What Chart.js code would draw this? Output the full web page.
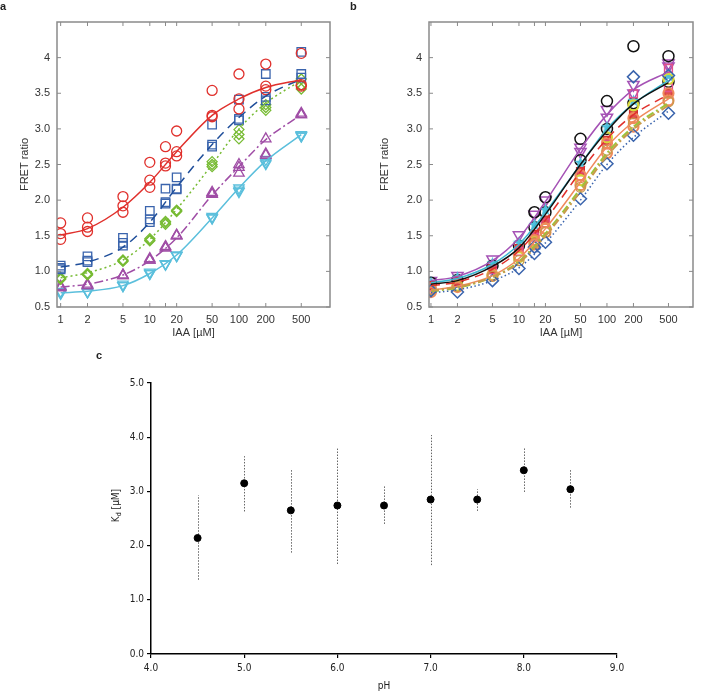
<!DOCTYPE html>
<html>
<head>
<meta charset="utf-8">
<script src="https://cdn.jsdelivr.net/npm/chart.js@4.4.1/dist/chart.umd.min.js"></script>
<style>
  body { margin: 0; background: #fff; }
  #wrap { position: relative; width: 701px; height: 692px; font-family: "Liberation Sans", Arial, sans-serif; }
  canvas { position: absolute; }
  .lbl { position: absolute; font-weight: bold; font-size: 11px; color: #222; }
</style>
</head>
<body>
<div id="wrap">
  <canvas id="chartA" width="350" height="340" style="left:0;top:0"></canvas>
  <canvas id="chartB" width="351" height="340" style="left:350px;top:0"></canvas>
  <canvas id="chartC" width="701" height="352" style="left:0;top:340px"></canvas>
  <div class="lbl" style="left:0;top:0">a</div>
  <div class="lbl" style="left:350px;top:0">b</div>
  <div class="lbl" style="left:96px;top:349px">c</div>
</div>
<script>
// nồng độ IAA (µM) và nhãn trục
const conc = [1, 2, 5, 10, 15, 20, 50, 100, 200, 500];
const xTicks = [1, 2, 5, 10, 15, 20, 50, 100, 200, 500];
const xTickLabels = ["1", "2", "5", "10", "", "20", "50", "100", "200", "500"];
const yTicks = [0.5, 1, 1.5, 2, 2.5, 3, 3.5, 4];
const yTickLabels = ["0.5", "1.0", "1.5", "2.0", "2.5", "3.0", "3.5", "4"];
const curveX = [1, 2, 5, 10, 20, 50, 100, 200, 500];

// panel a: điểm đo (lặp lại) và đường fit
const redA = [[1.68, 1.53, 1.45], [1.75, 1.62, 1.56], [2.05, 1.92, 1.83], [2.53, 2.28, 2.18], [2.75, 2.52, 2.48], [2.97, 2.68, 2.62], [3.54, 3.19, 3.17], [3.77, 3.42, 3.28], [3.91, 3.60, 3.55], [4.06, 3.62, 3.60]];
const redFitA = [1.51, 1.60, 1.90, 2.25, 2.68, 3.19, 3.42, 3.58, 3.69];
const blueA = [[1.08, 1.05, 1.03], [1.21, 1.15, 1.13], [1.47, 1.40, 1.36], [1.85, 1.73, 1.69], [2.16, 1.97, 1.95], [2.32, 2.16, 2.15], [3.06, 2.78, 2.75], [3.41, 3.14, 3.12], [3.77, 3.45, 3.40], [4.08, 3.77, 3.72]];
const blueFitA = [1.06, 1.13, 1.34, 1.69, 2.18, 2.78, 3.16, 3.46, 3.70];
const greenA = [[0.91, 0.90, 0.89], [0.97, 0.96, 0.95], [1.16, 1.15, 1.14], [1.46, 1.44, 1.43], [1.70, 1.68, 1.66], [1.86, 1.85, 1.84], [2.54, 2.50, 2.47], [2.99, 2.92, 2.86], [3.34, 3.30, 3.26], [3.70, 3.61, 3.56]];
const greenFitA = [0.91, 0.98, 1.16, 1.45, 1.87, 2.50, 3.00, 3.36, 3.68];
const purpleA = [[0.79, 0.78, 0.77], [0.82, 0.80, 0.80], [0.95, 0.94, 0.94], [1.18, 1.16, 1.16], [1.35, 1.33, 1.33], [1.51, 1.50, 1.50], [2.11, 2.09, 2.08], [2.50, 2.46, 2.38], [2.86, 2.65, 2.63], [3.22, 3.20, 3.20]];
const purpleFitA = [0.78, 0.82, 0.95, 1.15, 1.47, 2.07, 2.47, 2.85, 3.20];
const cyanA = [[0.72, 0.70, 0.69], [0.72, 0.71, 0.71], [0.82, 0.80, 0.80], [0.99, 0.97, 0.97], [1.11, 1.10, 1.10], [1.23, 1.22, 1.22], [1.77, 1.75, 1.75], [2.17, 2.14, 2.12], [2.57, 2.53, 2.51], [2.92, 2.90, 2.90]];
const cyanFitA = [0.70, 0.72, 0.80, 0.97, 1.23, 1.75, 2.17, 2.55, 2.92];

// panel b
const blackB = [[0.84], [0.88], [1.08], [1.36], [1.83, 1.62], [2.04, 1.83], [2.86, 2.56], [3.39, 3.00], [4.16, 3.36], [4.02, 3.66]];
const blackFitB = [0.82, 0.87, 1.07, 1.33, 1.80, 2.50, 2.97, 3.35, 3.65];
const purpleB = [[0.87], [0.94], [1.17], [1.51], [1.80], [2.00], [2.74, 2.68], [3.27, 3.16], [3.62, 3.50], [3.92, 3.88]];
const purpleFitB = [0.87, 0.93, 1.15, 1.47, 1.98, 2.72, 3.20, 3.55, 3.80];
const cyanB = [[0.85], [0.92], [1.12], [1.41], [1.66], [1.87], [2.53], [3.03], [3.40], [3.75]];
const cyanFitB = [0.84, 0.90, 1.10, 1.38, 1.83, 2.50, 3.00, 3.35, 3.68];
const redB = [[0.80], [0.86], [1.04], [1.32], [1.52], [1.72], [2.40], [2.84], [3.20], [3.50]];
const redFitB = [0.80, 0.85, 1.03, 1.29, 1.72, 2.40, 2.86, 3.20, 3.48];
const pinkB = [[0.78], [0.84], [1.02], [1.28], [1.48], [1.68], [2.34], [2.78], [3.49], [3.85, 3.58]];
const yellowB = [[0.74], [0.80], [0.95], [1.20], [1.42], [1.60], [2.28], [2.88], [3.33], [3.70]];
const limeFitB = [0.72, 0.77, 0.92, 1.14, 1.53, 2.16, 2.66, 3.03, 3.36];
const orangeB = [[0.76, 0.71], [0.78], [0.94], [1.22], [1.44, 1.38], [1.60, 1.55], [2.35, 2.21], [2.80, 2.66], [3.15, 3.03], [3.50, 3.40]];
const orangeFitB = [0.74, 0.79, 0.94, 1.18, 1.60, 2.25, 2.75, 3.10, 3.42];
const tanB = [[0.74], [0.79], [0.93], [1.15], [1.40], [1.55], [2.18], [2.70], [3.08], [3.38]];
const tanFitB = [0.73, 0.78, 0.92, 1.12, 1.50, 2.12, 2.62, 3.00, 3.33];
const blueB = [[0.73], [0.71], [0.87], [1.04], [1.34, 1.25], [1.41], [2.02], [2.51], [3.73, 2.91], [3.75, 3.22]];
const blueFitB = [0.70, 0.74, 0.87, 1.05, 1.40, 2.00, 2.50, 2.88, 3.25];

// panel c: Kd theo pH
const pH = [4.5, 5.0, 5.5, 6.0, 6.5, 7.0, 7.5, 8.0, 8.5];
const kd = [2.14, 3.15, 2.65, 2.74, 2.74, 2.85, 2.85, 3.39, 3.04];
const kdLow = [1.37, 2.63, 1.87, 1.66, 2.40, 1.64, 2.64, 2.99, 2.70];
const kdHigh = [2.93, 3.65, 3.42, 3.79, 3.10, 4.04, 3.04, 3.82, 3.41];
const xTickLabelsC = ["4.0", "5.0", "6.0", "7.0", "8.0", "9.0"];
const yTickLabelsC = ["0.0", "1.0", "2.0", "3.0", "4.0", "5.0"];

const FONT = "'Liberation Sans', Arial, sans-serif";
const NARROW = "'Liberation Sans Narrow', 'DejaVu Sans Condensed', sans-serif";

function pts(reps) {
  return conc.flatMap((c, i) => reps[i].map((v) => ({ x: c, y: v })));
}
function fit(ys) {
  return curveX.map((c, i) => ({ x: c, y: ys[i] }));
}
function markers(reps, color, style, extra) {
  return Object.assign({
    data: pts(reps), pointStyle: style, pointRadius: 5, borderColor: color,
    backgroundColor: "rgba(0,0,0,0)", pointBorderWidth: 1.3, showLine: false,
  }, extra || {});
}
function line(ys, color, dash, width) {
  return {
    data: fit(ys), showLine: true, pointRadius: 0, borderColor: color,
    borderWidth: width || 1.5, borderDash: dash || [], cubicInterpolationMode: "monotone",
  };
}

// ngôi sao tô đầy cho panel b
function starImg(color) {
  const c = document.createElement("canvas");
  c.width = 13; c.height = 13;
  const g = c.getContext("2d");
  g.beginPath();
  for (let i = 0; i < 10; i++) {
    const r = i % 2 ? 2.8 : 6.4;
    const a = -Math.PI / 2 + (i * Math.PI) / 5;
    g.lineTo(6.5 + r * Math.cos(a), 7 + r * Math.sin(a));
  }
  g.closePath();
  g.fillStyle = color; g.fill();
  return c;
}

// khung xám + vạch chia hướng vào trong
const framePlugin = {
  id: "frame",
  afterDraw(chart) {
    const { ctx, chartArea: { left, right, top, bottom }, scales: { x, y } } = chart;
    ctx.save();
    ctx.strokeStyle = "#8a8a8a";
    ctx.lineWidth = 1.5;
    ctx.strokeRect(left, top, right - left, bottom - top);
    ctx.lineWidth = 1;
    ctx.beginPath();
    xTicks.forEach((v) => {
      const px = x.getPixelForValue(v);
      ctx.moveTo(px, bottom); ctx.lineTo(px, bottom - 4);
      ctx.moveTo(px, top); ctx.lineTo(px, top + 4);
    });
    yTicks.forEach((v) => {
      const py = y.getPixelForValue(v);
      ctx.moveTo(left, py); ctx.lineTo(left + 4, py);
      ctx.moveTo(right, py); ctx.lineTo(right - 4, py);
    });
    ctx.stroke();
    ctx.restore();
  },
};

function doseOptions(xMin, xMax, yWidth, titlePad) {
  return {
    responsive: false,
    animation: false,
    layout: { padding: { top: 22, right: 0, left: 0, bottom: 0 } },
    plugins: { legend: { display: false }, tooltip: { enabled: false } },
    scales: {
      x: {
        type: "logarithmic", min: xMin, max: xMax,
        afterBuildTicks: (s) => { s.ticks = xTicks.map((v) => ({ value: v })); },
        afterFit: (s) => { s.height = 33; },
        grid: { display: false, drawTicks: false },
        border: { display: false },
        ticks: {
          autoSkip: false, maxRotation: 0, padding: 6, color: "#333",
          font: { family: FONT, size: 11 },
          callback: (v) => xTickLabels[xTicks.indexOf(v)],
        },
        title: { display: true, text: "IAA [µM]", color: "#333", font: { family: FONT, size: 11 }, padding: 0 },
      },
      y: {
        min: 0.5, max: 4.5,
        afterFit: (s) => { s.width = yWidth; },
        grid: { display: false, drawTicks: false },
        border: { display: false },
        ticks: {
          stepSize: 0.5, padding: 7, color: "#333",
          font: { family: FONT, size: 11 },
          callback: (v) => { const i = yTicks.indexOf(v); return i < 0 ? "" : yTickLabels[i]; },
        },
        title: { display: true, text: "FRET ratio", color: "#333", font: { family: FONT, size: 11 }, padding: { top: titlePad, bottom: 0 } },
      },
    },
  };
}

const optsA = doseOptions(0.91, 1050, 57, 18);
optsA.layout.padding.right = 20;
new Chart(document.getElementById("chartA"), {
  type: "scatter",
  data: {
    datasets: [
      line(redFitA, "#e0302c"),
      line(blueFitA, "#1f4e9a", [9, 6]),
      line(greenFitA, "#77bb33", [2, 3]),
      line(purpleFitA, "#a04ea6", [9, 3, 2, 3]),
      line(cyanFitA, "#5bbfdc"),
      markers(redA, "#e0302c", "circle"),
      markers(blueA, "#3a64ad", "rect", { pointRadius: 6 }),
      markers(greenA, "#77bb33", "rectRot"),
      markers(purpleA, "#a04ea6", "triangle", { pointRadius: 6 }),
      markers(cyanA, "#5bbfdc", "triangle", { pointRadius: 6, pointRotation: 180 }),
    ],
  },
  options: optsA,
  plugins: [framePlugin],
});

const optsB = doseOptions(0.95, 950, 79, 28);
optsB.layout.padding.right = 3;
new Chart(document.getElementById("chartB"), {
  type: "scatter",
  data: {
    datasets: [
      line(blueFitB, "#3a64ad", [1.5, 2.5]),
      line(tanFitB, "#c99a4a", [8, 3, 2, 3], 2),
      line(limeFitB, "#9cc43a", [8, 3, 2, 3], 2),
      line(orangeFitB, "#f08a5d"),
      line(redFitB, "#e0302c", [9, 6]),
      line(blackFitB, "#111111"),
      line(cyanFitB, "#3cb8d0"),
      line(purpleFitB, "#a552b5"),
      markers(blueB, "#3a64ad", "rectRot", { pointRadius: 6, pointBorderWidth: 1.5 }),
      markers(tanB, "#c99a4a", "circle", { pointRadius: 5 }),
      markers(orangeB, "#f08a5d", "circle", { pointRadius: 5, pointBorderWidth: 2.2 }),
      markers(yellowB, "#d6d838", "circle", { pointRadius: 5, pointBorderWidth: 2.2 }),
      markers(pinkB, "#e2508a", "rect", { pointRadius: 5.5, pointBorderWidth: 1.5 }),
      markers(redB, "#d03030", "rect", { pointRadius: 5.5, backgroundColor: "#e05050" }),
      markers(cyanB, "#4fc0dc", starImg("#4fc0dc")),
      markers(blackB, "#111111", "circle", { pointRadius: 5.5, pointBorderWidth: 1.5 }),
      markers(purpleB, "#a552b5", "triangle", { pointRadius: 6.5, pointRotation: 180, pointBorderWidth: 1.5 }),
    ],
  },
  options: optsB,
  plugins: [framePlugin],
});

// thanh sai số chấm mảnh + nhãn Kd có chỉ số dưới
const errorBarPlugin = {
  id: "errbars",
  beforeDatasetsDraw(chart) {
    const { ctx, scales: { x, y } } = chart;
    ctx.save();
    ctx.strokeStyle = "#666";
    ctx.lineWidth = 1;
    ctx.setLineDash([1.5, 1.5]);
    pH.forEach((p, i) => {
      const px = Math.round(x.getPixelForValue(p)) + 0.5;
      ctx.beginPath();
      ctx.moveTo(px, y.getPixelForValue(kdLow[i]));
      ctx.lineTo(px, y.getPixelForValue(kdHigh[i]));
      ctx.stroke();
    });
    ctx.restore();
  },
  afterDraw(chart) {
    const { ctx, chartArea } = chart;
    const cy = (chartArea.top + chartArea.bottom) / 2 - 13;
    ctx.save();
    ctx.translate(116, cy);
    ctx.rotate(-Math.PI / 2);
    ctx.fillStyle = "#222";
    ctx.textBaseline = "middle";
    const k = "K", rest = " [µM]";
    ctx.font = "7px " + NARROW;
    const wd = ctx.measureText("d").width;
    ctx.font = "10px " + NARROW;
    const wk = ctx.measureText(k).width, wr = ctx.measureText(rest).width;
    const sx = -(wk + wd + wr) / 2;
    ctx.fillText(k, sx, 0);
    ctx.font = "7px " + NARROW;
    ctx.fillText("d", sx + wk, 3);
    ctx.font = "10px " + NARROW;
    ctx.fillText(rest, sx + wk + wd, 0);
    ctx.restore();
  },
};

new Chart(document.getElementById("chartC"), {
  type: "scatter",
  data: {
    datasets: [{
      data: pH.map((p, i) => ({ x: p, y: kd[i] })),
      pointRadius: 3.5, pointBackgroundColor: "#000", pointBorderColor: "#000",
    }],
  },
  options: {
    responsive: false,
    animation: false,
    layout: { padding: { top: 43, right: 84, left: 0, bottom: 0 } },
    plugins: { legend: { display: false }, tooltip: { enabled: false } },
    scales: {
      x: {
        min: 4, max: 9,
        afterFit: (s) => { s.height = 38; },
        grid: { drawOnChartArea: false, drawTicks: true, tickLength: 4, color: "#000", lineWidth: 1.2 },
        border: { color: "#000", width: 1.5 },
        ticks: {
          stepSize: 1, padding: 4, color: "#222", font: { family: NARROW, size: 10 },
          callback: (v) => xTickLabelsC[v - 4],
        },
        title: { display: true, text: "pH", color: "#222", font: { family: NARROW, size: 10 }, padding: 0 },
      },
      y: {
        min: 0, max: 5,
        afterFit: (s) => { s.width = 151; },
        grid: { drawOnChartArea: false, drawTicks: true, tickLength: 4, color: "#000", lineWidth: 1.2 },
        border: { color: "#000", width: 1.5 },
        ticks: {
          stepSize: 1, padding: 3, color: "#222", font: { family: NARROW, size: 10 },
          callback: (v) => yTickLabelsC[v],
        },
      },
    },
  },
  plugins: [errorBarPlugin],
});
</script>
</body>
</html>
